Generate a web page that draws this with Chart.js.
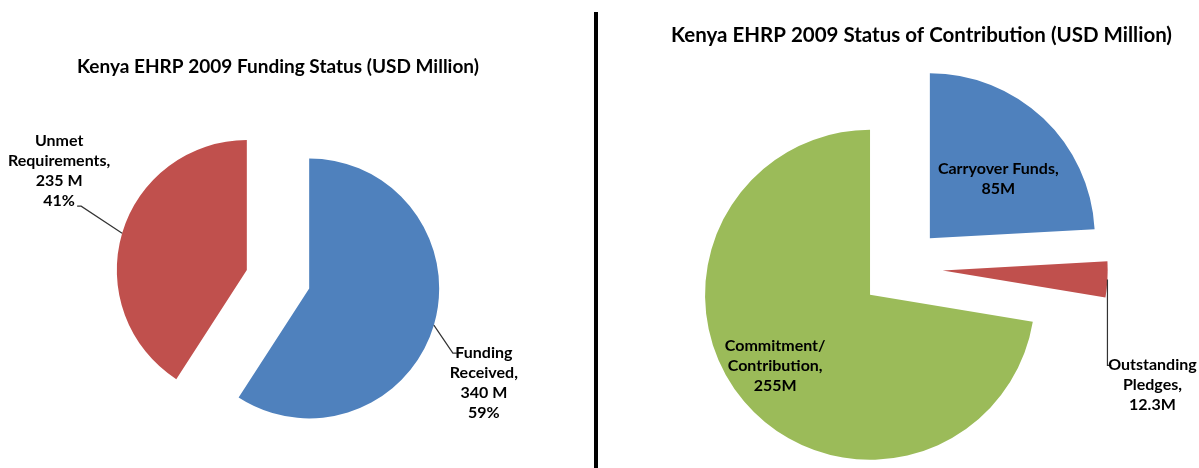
<!DOCTYPE html>
<html>
<head>
<meta charset="utf-8">
<script src="https://cdn.jsdelivr.net/npm/chart.js@4.4.1/dist/chart.umd.min.js"></script>
<style>
    html, body { margin: 0; padding: 0; background: #fff; overflow: hidden; }
    body { width: 1199px; height: 468px; position: relative; }
    #funding_wrap { position: absolute; left: 0; top: 0; width: 592px; height: 480px; }
    #contribution_wrap { position: absolute; left: 598px; top: 0; width: 601px; height: 489px; }
    #divider { position: absolute; left: 594px; top: 12px; width: 4px; height: 456px; background: #000; }
</style>
</head>
<body>
<div id="funding_wrap"><canvas id="funding_Chart"></canvas></div>
<div id="divider"></div>
<div id="contribution_wrap"><canvas id="contribution_Chart"></canvas></div>
<script>
// data
var fundingCategories = ['Funding Received', 'Unmet Requirements'];
var fundingValues = [340, 235];
var fundingLabelText = [
    ['Funding', 'Received,', '340 M', '59%'],
    ['Unmet', 'Requirements,', '235 M', '41%']
];
var contributionCategories = ['Carryover Funds', 'Outstanding Pledges', 'Commitment/Contribution'];
var contributionValues = [85, 12.3, 255];
var contributionLabelText = [
    ['Carryover Funds,', '85M'],
    ['Outstanding', 'Pledges,', '12.3M'],
    ['Commitment/', 'Contribution,', '255M']
];

var BLUE = '#4F81BD', RED = '#C0504D', GREEN = '#9BBB59';

Chart.defaults.font.family = 'Lato';
Chart.defaults.color = '#000';

// pulls every slice out from the middle along its own mid angle
const explodePlugin = {
    id: 'explode',
    afterDatasetsUpdate(chart, args, opts) {
        chart.getDatasetMeta(0).data.forEach(function (arc) {
            var mid = (arc.startAngle + arc.endAngle) / 2;
            var d = opts.fraction * arc.outerRadius;
            arc.x += Math.cos(mid) * d;
            arc.y += Math.sin(mid) * d;
        });
    }
};

// text labels, anchored on the outer edge of each slice at its mid angle
const sliceLabelPlugin = {
    id: 'sliceLabels',
    afterDatasetsDraw(chart, args, opts) {
        var ctx = chart.ctx;
        var meta = chart.getDatasetMeta(0);
        ctx.save();
        ctx.font = 'bold 16px Lato';
        ctx.fillStyle = '#000';
        ctx.textAlign = 'center';
        ctx.textBaseline = 'middle';
        opts.items.forEach(function (item) {
            var arc = meta.data[item.index];
            var mid = (arc.startAngle + arc.endAngle) / 2;
            var ax = arc.x + Math.cos(mid) * arc.outerRadius;
            var ay = arc.y + Math.sin(mid) * arc.outerRadius;
            if (item.leader) {
                ctx.beginPath();
                ctx.moveTo(ax, ay);
                item.leader.forEach(function (p) { ctx.lineTo(ax + p[0], ay + p[1]); });
                ctx.strokeStyle = '#333';
                ctx.lineWidth = 1.2;
                ctx.stroke();
            }
            var lines = opts.text[item.index];
            lines.forEach(function (line, i) {
                ctx.fillText(line, ax + item.dx, ay + item.dy + (i - (lines.length - 1) / 2) * opts.lineHeight);
            });
        });
        ctx.restore();
    }
};

const baseOptions = (title, titleSize, titleTop, align, padding, labels) => ({
    responsive: true,
    maintainAspectRatio: false,
    animation: false,
    events: [],
    layout: { padding: padding },
    plugins: {
        legend: { display: false },
        tooltip: { enabled: false },
        title: {
            display: true,
            text: title,
            align: align,
            color: '#000',
            font: { size: titleSize, weight: 'bold', family: 'Lato' },
            padding: { top: titleTop, bottom: 0 }
        },
        explode: { fraction: 0.25 },
        sliceLabels: labels
    }
});

new Chart(document.getElementById('funding_Chart'), {
    type: 'pie',
    data: {
        labels: fundingCategories,
        datasets: [{
            data: fundingValues,
            backgroundColor: [BLUE, RED],
            borderWidth: 0,
            radius: 130
        }]
    },
    options: baseOptions('Kenya EHRP 2009 Funding Status (USD Million)', 19, 55.6, 'center',
        { left: 0, right: 36, top: 0, bottom: 0 },
        {
            text: fundingLabelText,
            lineHeight: 20,
            items: [
                { index: 0, dx: 50, dy: 58, leader: [[19, 28], [23, 28]] },
                { index: 1, dx: -63, dy: -62, leader: [[-41, -27], [-45, -27]] }
            ]
        }),
    plugins: [explodePlugin, sliceLabelPlugin]
});

new Chart(document.getElementById('contribution_Chart'), {
    type: 'pie',
    data: {
        labels: contributionCategories,
        datasets: [{
            data: contributionValues,
            backgroundColor: [BLUE, RED, GREEN],
            borderWidth: 0,
            radius: 165
        }]
    },
    options: baseOptions('Kenya EHRP 2009 Status of Contribution (USD Million)', 20.5, 22.7, 'end',
        { left: 33, right: 27, top: 0, bottom: 0 },
        {
            text: contributionLabelText,
            lineHeight: 20,
            items: [
                { index: 0, dx: -45, dy: 60 },
                { index: 1, dx: 45, dy: 105, leader: [[0, 86], [4, 86]] },
                { index: 2, dx: 31, dy: -36 }
            ]
        }),
    plugins: [explodePlugin, sliceLabelPlugin]
});
</script>
</body>
</html>
